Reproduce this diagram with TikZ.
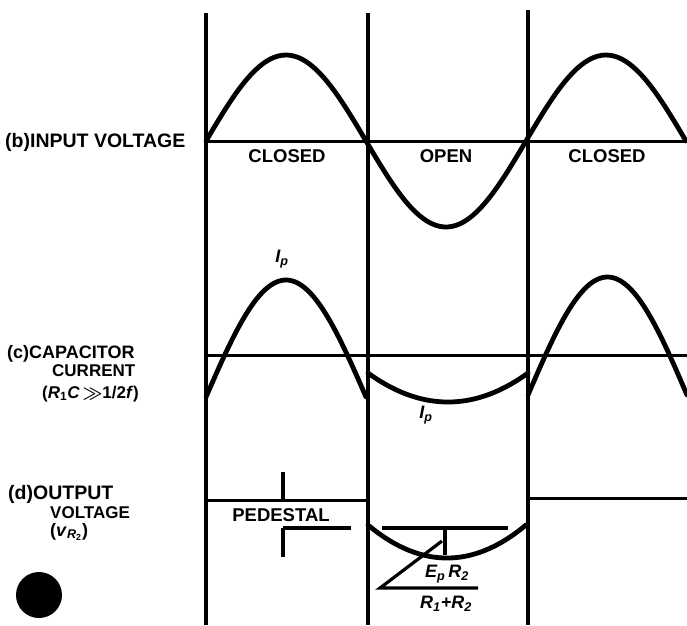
\documentclass[tikz,border=0pt]{standalone}
\usepackage{fontspec}
\setmainfont{Liberation Sans}
\begin{document}
\begin{tikzpicture}[x=1pt,y=-1pt,
  wave/.style={line width=4.8pt, line join=round, line cap=round},
  vaxis/.style={line width=3.2pt},
  base/.style={line width=3pt},
  dimline/.style={line width=3.2pt},
  lbl/.style={font=\bfseries\fontsize{18.5}{19}\selectfont, inner sep=0pt},
  side/.style={font=\bfseries\fontsize{17}{18}\selectfont, inner sep=0pt, anchor=west},
  sidebig/.style={side, font=\bfseries\fontsize{19.5}{20}\selectfont},
  sub/.style={font=\bfseries\itshape\fontsize{18}{19}\selectfont, inner sep=0pt}]
\useasboundingbox (0,0) rectangle (687,625);
% vertical switching lines
\draw[vaxis] (206,13) -- (206,625);
\draw[vaxis] (368,13) -- (368,625);
\draw[vaxis] (528,10) -- (528,625);
% (b) input voltage
\draw[base] (206,141) -- (687,141);
\draw[wave] plot[domain=206:686, samples=120] (\x, {141-86*sin((\x-206)*1.125)});
\node[lbl] (cl1) at (287,156) {CLOSED};
\node[lbl] (op) at (446,156) {OPEN};
\node[lbl] (cl2) at (607,156) {CLOSED};
\node[sidebig] (lb) at (5,142) {(b)INPUT VOLTAGE};
% (c) capacitor current
\draw[base] (206,355) -- (687,355);
\draw[wave] plot[domain=206:366, samples=60] (\x, {397-117*sin((\x-206)*1.125)});
\draw[wave] plot[domain=368:528, samples=60] (\x, {402-29*((\x-448)/80)^2});
\draw[wave] plot[domain=528:687, samples=60] (\x, {395-118*sin((\x-528)*1.1321)});
\node[sub] (ip1) at (282,259) {I\textsubscript{p}};
\node[sub] (ip2) at (426,415) {I\textsubscript{p}};
\node[side, font=\bfseries\fontsize{18}{19}\selectfont] (lc1) at (7,354) {(c)CAPACITOR};
\node[side] (lc2) at (52,371) {CURRENT};
\node[side, font=\bfseries\fontsize{17}{18}\selectfont] (lc3) at (42,394) {(\textit{R}\textsubscript{1}\textit{C}\,{\boldmath$\gg$}1/2\textit{f})};
% (d) output voltage
\draw[base] (206,500) -- (368,500);
\draw[base] (528,498) -- (687,498);
\draw[dimline] (283,472) -- (283,500);
\draw[dimline] (283,528) -- (351,528);
\draw[dimline] (283,528) -- (283,557);
\node[lbl] (ped) at (281,515) {PEDESTAL};
\draw[wave] plot[domain=368:526, samples=60] (\x, {558-33*((\x-447)/79)^2});
\draw[dimline] (382,528) -- (508,528);
\draw[line width=4.5pt] (445,528) -- (445,555);
\coordinate (lead) at (442,541);
\coordinate (corner) at (380,588);
\draw[dimline] (lead) -- (corner) -- (478,588);
\node[sub] (num) at (447,574) {E\textsubscript{p}\,R\textsubscript{2}};
\node[sub] (den) at (446,604) {R\textsubscript{1}+R\textsubscript{2}};
\node[sidebig] (ld1) at (8,494) {(d)OUTPUT};
\node[side] (ld2) at (50,513) {VOLTAGE};
\node[side, font=\bfseries\fontsize{18}{19}\selectfont] (ld3) at (50,532) {(\textit{v}\textsubscript{\textit{R}\textsubscript{2}})};
\fill (39,595) circle (23);
\end{tikzpicture}
\end{document}
